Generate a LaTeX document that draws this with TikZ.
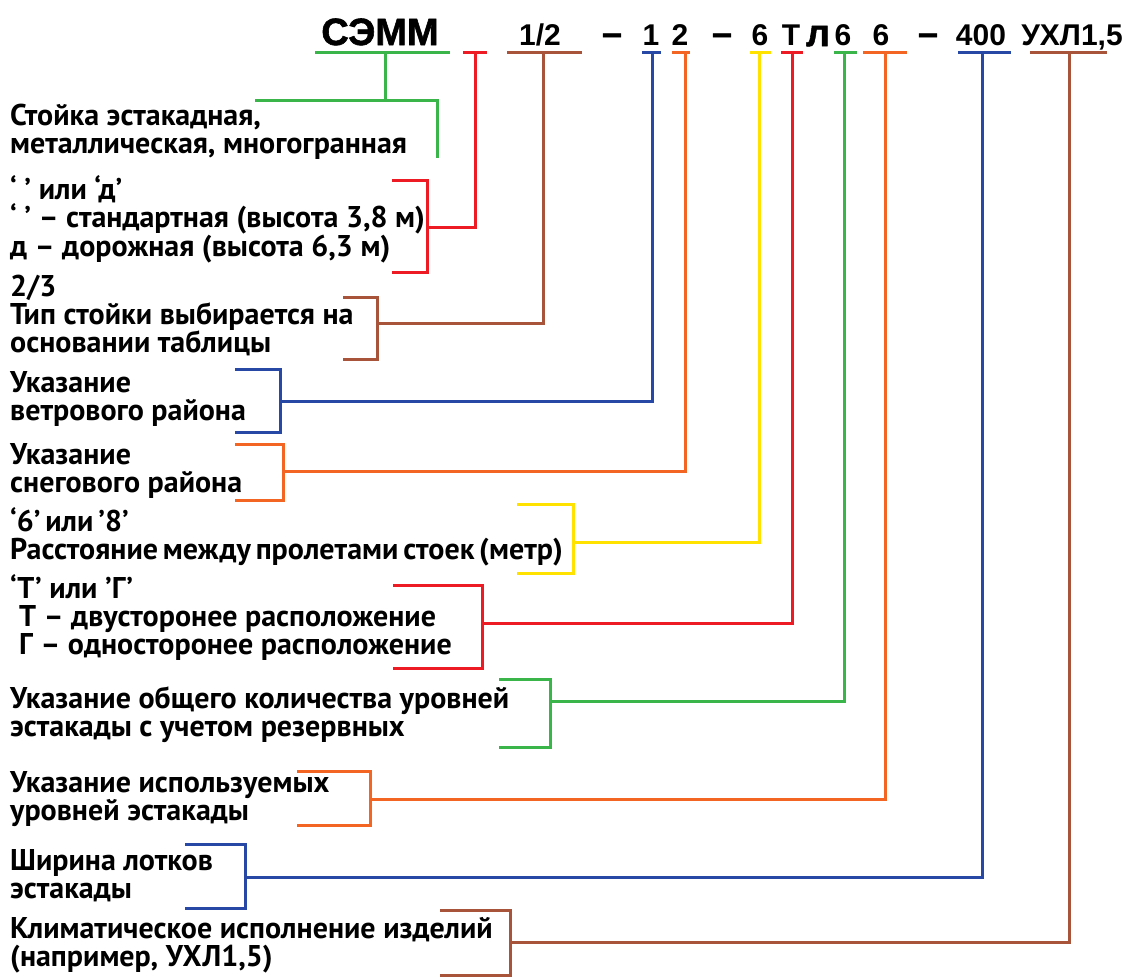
\documentclass[tikz,border=0pt]{standalone}
\usepackage{fontspec}
\setmainfont{PT Sans}
\newfontfamily\codefont{Liberation Sans}
\newfontfamily\heavyfont[FakeBold=1.5]{Liberation Sans}
\usepackage{tikz}
\definecolor{cgreen}{RGB}{57,181,74}
\definecolor{cred}{RGB}{237,28,36}
\definecolor{cbrown}{RGB}{168,84,58}
\definecolor{cblue}{RGB}{40,72,165}
\definecolor{corange}{RGB}{242,101,34}
\definecolor{cyellow}{RGB}{255,226,0}

\begin{document}
\begin{tikzpicture}[x=1pt,y=-1pt,
   code/.style={font=\codefont\bfseries\fontsize{30}{30}\selectfont,anchor=base,inner sep=0pt},
   heavy/.style={code,font=\heavyfont\bfseries\fontsize{#1}{#1}\selectfont},
   lbl/.style={font=\bfseries\fontsize{30}{28}\selectfont,align=left,anchor=west,inner sep=0pt},
   wire/.style={line width=3pt,line join=miter}]
   \fill[white] (0,0) rectangle (1128,978);
   \useasboundingbox (0,0) rectangle (1128,978);

   \node[heavy=38] (semm) at (380,45) {СЭММ};
   \node[code] (typ) at (540,45) {1/2};
   \node[heavy=36] (dasha) at (612,45) {–};
   \node[code] (wind) at (651,45) {1};
   \node[code] (snow) at (680,45) {2};
   \node[heavy=36] (dashb) at (722,45) {–};
   \node[code] (span) at (760,45) {6};
   \node[code] (side) at (791,45) {Т};
   \node[heavy=38] (el) at (818,46) {л};
   \node[code] (levall) at (843,45) {6};
   \node[code] (levuse) at (881,45) {6};
   \node[heavy=36] (dashc) at (928,45) {–};
   \node[code] (tray) at (981,45) {400};
   \node[code] (clim) at (1072,45) {УХЛ1,5};

   \node[lbl] (rack) at (10,132) {Стойка эстакадная,\\металлическая, многогранная};
   \node[lbl] (height) at (10,219) {‘ ’ или ‘д’\\‘ ’ – стандартная (высота 3,8 м)\\д – дорожная (высота 6,3 м)};
   \node[lbl] (kind) at (10,315) {2/3\\Тип стойки выбирается на\\основании таблицы};
   \node[lbl] (windtxt) at (10,399) {Указание\\ветрового района};
   \node[lbl] (snowtxt) at (10,471) {Указание\\снегового района};
   \node[lbl,font={\bfseries\fontsize{30}{28}\selectfont\spaceskip=0.16em\relax}] (spantxt) at (10,537) {‘6’ или ’8’\\Расстояние между пролетами стоек (метр)};
   \node[lbl] (sidetxt) at (10,618) {‘Т’ или ’Г’\\\hspace*{0.3em}Т – двусторонее расположение\\\hspace*{0.3em}Г – односторонее расположение};
   \node[lbl] (levalltxt) at (10,715) {Указание общего количества уровней\\эстакады с учетом резервных};
   \node[lbl] (levusetxt) at (10,799) {Указание используемых\\уровней эстакады};
   \node[lbl] (traytxt) at (10,876) {Ширина лотков\\эстакады};
   \node[lbl] (climtxt) at (10,945) {Климатическое исполнение изделий\\(например, УХЛ1,5)};

   \coordinate (t1) at (385,52);
   \coordinate (t2) at (475,52);
   \coordinate (t3) at (543,52);
   \coordinate (t4) at (652,52);
   \coordinate (t5) at (685,52);
   \coordinate (t6) at (759,52);
   \coordinate (t7) at (792,52);
   \coordinate (t8) at (844,52);
   \coordinate (t9) at (885,52);
   \coordinate (t10) at (982,52);
   \coordinate (t11) at (1069,52);

   \coordinate (b1) at (385,100);
   \coordinate (b2) at (427,227);
   \coordinate (b3) at (377,323);
   \coordinate (b4) at (280,401);
   \coordinate (b5) at (283,471);
   \coordinate (b6) at (573,542);
   \coordinate (b7) at (482,623);
   \coordinate (b8) at (550,701);
   \coordinate (b9) at (370,799);
   \coordinate (b10) at (245,877);
   \coordinate (b11) at (510,942);

   \draw[wire,cgreen] (315,52) -- (450,52);
   \draw[wire,cred] (463,52) -- (487,52);
   \draw[wire,cbrown] (507,52) -- (582,52);
   \draw[wire,cblue] (642,52) -- (661,52);
   \draw[wire,corange] (672,52) -- (690,52);
   \draw[wire,cyellow] (750,52) -- (771,52);
   \draw[wire,cred] (781,52) -- (803,52);
   \draw[wire,cgreen] (834,52) -- (857,52);
   \draw[wire,corange] (863,52) -- (907,52);
   \draw[wire,cblue] (958,52) -- (1011,52);
   \draw[wire,cbrown] (1030,52) -- (1107,52);

   \draw[wire,cgreen] (255,100) -- (437,100) -- (437,158);
   \draw[wire,cred] (392,180) -| (b2) |- (392,272);
   \draw[wire,cbrown] (343,297) -| (b3) |- (343,359);
   \draw[wire,cblue] (235,369) -| (b4) |- (235,432);
   \draw[wire,corange] (235,444) -| (b5) |- (235,500);
   \draw[wire,cyellow] (517,504) -| (b6) |- (517,573);
   \draw[wire,cred] (393,585) -| (b7) |- (393,668);
   \draw[wire,cgreen] (499,679) -| (b8) |- (499,747);
   \draw[wire,corange] (297,771) -| (b9) |- (297,825);
   \draw[wire,cblue] (185,844) -| (b10) |- (185,908);
   \draw[wire,cbrown] (440,910) -| (b11) |- (440,975);

   \draw[wire,cgreen] (t1) -- (b1);
   \draw[wire,cred] (t2) |- (b2);
   \draw[wire,cbrown] (t3) |- (b3);
   \draw[wire,cblue] (t4) |- (b4);
   \draw[wire,corange] (t5) |- (b5);
   \draw[wire,cyellow] (t6) |- (b6);
   \draw[wire,cred] (t7) |- (b7);
   \draw[wire,cgreen] (t8) |- (b8);
   \draw[wire,corange] (t9) |- (b9);
   \draw[wire,cblue] (t10) |- (b10);
   \draw[wire,cbrown] (t11) |- (b11);
\end{tikzpicture}
\end{document}
